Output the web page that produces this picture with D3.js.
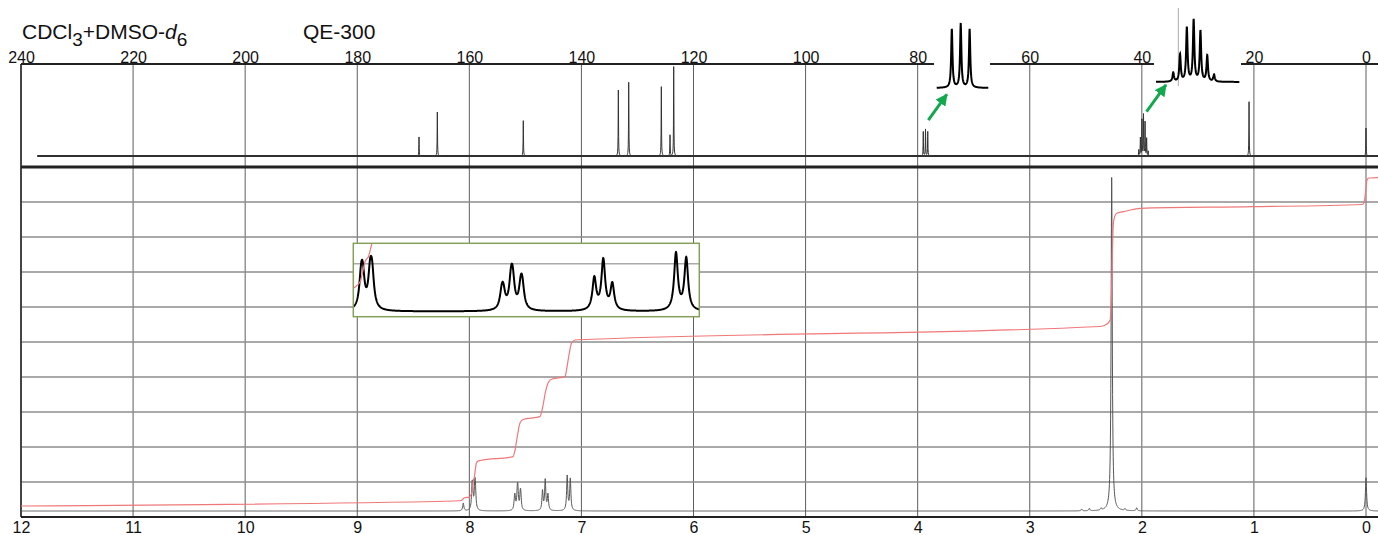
<!DOCTYPE html>
<html><head><meta charset="utf-8">
<script src="https://cdn.jsdelivr.net/npm/d3@7"></script>
<style>
html,body{margin:0;padding:0;background:#fff;}
svg{display:block;font-family:"Liberation Sans",Arial,sans-serif;}
</style></head><body>
<svg id="chart" width="1378" height="535"></svg>
<script>
// Axis ticks (ppm)
const c13Ticks = [240,220,200,180,160,140,120,100,80,60,40,20,0];
const h1Ticks = [12,11,10,9,8,7,6,5,4,3,2,1,0];
const integralGridLevels = [1,2,3,4,5,6,7,8,9];

// 13C lines: chemical shift (ppm) and relative intensity
const c13Shifts = [168.98,165.71,150.37,133.41,131.56,125.74,124.19,123.53,
  79.0,78.6,78.2,
  40.54,40.26,39.98,39.70,39.42,39.14,38.86,
  20.87,0.0];
const c13Heights = [20.7,47.8,38.4,71.7,80.1,75.3,22.8,97.1,
  26.5,29,26.5,
  6.6,19.7,39.3,44.8,36.8,19.0,5.1,
  59.0,30.4];

// 1H lines: chemical shift (ppm) and height (integral-grid units)
const h1Shifts = [8.054,
  7.9760,7.9714,7.9517,7.9463,
  7.5967,7.5924,7.5717,7.5671,7.5455,7.5412,
  7.3471,7.3229,7.2986,
  7.1269,7.0992,
  2.537,2.468,2.364,2.269,2.150,2.046,
  0.0];
const h1Heights = [0.22,
  0.476,0.476,0.545,0.545,
  0.256,0.256,0.438,0.438,0.339,0.339,
  0.554,0.866,0.450,
  0.987,0.900,
  0.05,0.066,0.057,9.53,0.05,0.086,
  0.95];

// Integral curve: [ppm, integral level]
const integralTrace = [
  [12.0,0.314],[8.128,0.457],[8.070,0.471],[8.057,0.514],[8.043,0.551],[8.000,0.57],
  [7.991,0.60],[7.978,0.694],[7.9714,0.867],[7.965,1.04],[7.9563,1.12],[7.9471,1.34],
  [7.938,1.53],[7.925,1.59],[7.904,1.614],[7.610,1.723],[7.592,1.914],[7.570,2.343],
  [7.548,2.686],[7.521,2.786],[7.370,2.866],[7.347,3.114],[7.321,3.571],[7.293,3.857],
  [7.262,3.943],[7.146,4.009],[7.133,4.2],[7.111,4.629],[7.088,4.971],[7.057,5.057],
  [6.834,5.086],[2.373,5.443],[2.310,5.514],[2.283,5.629],[2.270,6.486],[2.262,7.629],
  [2.255,8.343],[2.244,8.571],[2.224,8.677],[2.135,8.743],[2.016,8.82],[1.008,8.866],
  [0.031,8.929],[0.013,9.057],[0.000,9.4],[-0.009,9.629],[-0.027,9.686],[-0.107,9.694]
];

const svg = d3.select("#chart");
const W = 1378;
const left = 21, zeroX = 1366;
const topY = 64, midY = 167, botY = 517;

const x13 = d3.scaleLinear().domain([240, 0]).range([left, zeroX]);
const xH = d3.scaleLinear().domain([12, 0]).range([left, zeroX]);
const y13 = d3.scaleLinear().domain([0, 100]).range([156, topY]);
const yH = d3.scaleLinear().domain([0, 10]).range([botY, midY]);
const h1Base = 0.171;
const c13Start = 237.1;

const gamma13 = 0.035, gammaH = 0.006;

// Sum of Lorentzian lines sampled across a ppm window
function spectrum(xs, shifts, heights, gamma, p0, p1, step) {
  const lo = Math.min(p0, p1), hi = Math.max(p0, p1);
  const ppms = d3.range(xs(p0), xs(p1), step).map(xs.invert);
  ppms.push(p1);
  shifts.forEach(s => { if (s >= lo && s <= hi) ppms.push(s); });
  ppms.sort((a, b) => b - a);
  return ppms.map(p => [p, d3.sum(shifts, (s, i) => heights[i] / (1 + ((p - s) / gamma) ** 2))]);
}

const defs = svg.append("defs");
defs.append("marker").attr("id", "arrowHead")
  .attr("viewBox", "0 0 10 10").attr("refX", 9).attr("refY", 5)
  .attr("markerWidth", 12).attr("markerHeight", 12)
  .attr("markerUnits", "userSpaceOnUse").attr("orient", "auto")
  .append("path").attr("d", "M0,0 L10,5 L0,10 z").attr("fill", "#12a84e");

// Grid
const grid = svg.append("g");
grid.selectAll("line.v").data(h1Ticks).join("line")
  .attr("x1", d => xH(d)).attr("x2", d => xH(d))
  .attr("y1", topY).attr("y2", botY)
  .attr("stroke", "#5e5e5e").attr("stroke-width", 1);
grid.selectAll("line.h").data(integralGridLevels).join("line")
  .attr("x1", left).attr("x2", W)
  .attr("y1", d => yH(d)).attr("y2", d => yH(d))
  .attr("stroke", "#8c8c8c").attr("stroke-width", 1.5);

// Frame
const frame = svg.append("g").attr("stroke", "#222");
frame.append("line").attr("x1", left).attr("x2", W).attr("y1", topY).attr("y2", topY).attr("stroke-width", 2);
frame.append("line").attr("x1", left).attr("x2", W).attr("y1", midY).attr("y2", midY).attr("stroke-width", 3);
frame.append("line").attr("x1", left).attr("x2", W).attr("y1", botY).attr("y2", botY).attr("stroke-width", 2);
frame.append("line").attr("x1", left).attr("x2", left).attr("y1", topY).attr("y2", botY).attr("stroke-width", 1.5);

// Axis labels
const axTop = svg.append("g").attr("transform", `translate(0,${topY})`)
  .call(d3.axisTop(x13).tickValues(c13Ticks).tickSize(0).tickPadding(1.5));
axTop.select(".domain").remove();
axTop.selectAll("text").attr("font-size", 16).attr("font-family", "Liberation Sans, Arial, sans-serif").attr("fill", "#111");

const axBot = svg.append("g").attr("transform", `translate(0,${botY})`)
  .call(d3.axisBottom(xH).tickValues(h1Ticks).tickSize(0).tickPadding(4.5));
axBot.select(".domain").remove();
axBot.selectAll("text").attr("font-size", 16).attr("font-family", "Liberation Sans, Arial, sans-serif").attr("fill", "#111");

// Titles
const title = svg.append("text").attr("x", 22).attr("y", 38.5).attr("font-size", 21).attr("fill", "#111");
title.append("tspan").text("CDCl");
title.append("tspan").attr("font-size", 19).attr("dy", 7).text("3");
title.append("tspan").attr("dy", -7).text("+DMSO-");
title.append("tspan").attr("font-style", "italic").text("d");
title.append("tspan").attr("font-size", 19).attr("dy", 7).text("6");
svg.append("text").attr("x", 303).attr("y", 38.5).attr("font-size", 21).attr("fill", "#111").text("QE-300");

// 13C spectrum: heavier baseline band, then the trace
svg.append("line")
  .attr("x1", x13(c13Start)).attr("x2", W)
  .attr("y1", y13(0)).attr("y2", y13(0))
  .attr("stroke", "#333").attr("stroke-width", 2);
const c13Data = spectrum(x13, c13Shifts, c13Heights, gamma13, c13Start, x13.invert(W), 0.2);
svg.append("path")
  .attr("d", d3.line().x(d => x13(d[0])).y(d => y13(d[1]))(c13Data))
  .attr("fill", "none").attr("stroke", "#333").attr("stroke-width", 1);

// 1H spectrum
const h1Data = spectrum(xH, h1Shifts, h1Heights, gammaH, 12, xH.invert(W), 0.2);
svg.append("path")
  .attr("d", d3.line().x(d => xH(d[0])).y(d => yH(d[1] + h1Base))(h1Data))
  .attr("fill", "none").attr("stroke", "#555").attr("stroke-width", 1);

// Integral
const integralLine = (xs, ys) => d3.line().x(d => xs(d[0])).y(d => ys(d[1])).curve(d3.curveMonotoneX);
svg.append("path")
  .attr("d", integralLine(xH, yH)(integralTrace))
  .attr("fill", "none").attr("stroke", "#f07878").attr("stroke-width", 1.2);

// 13C expansions (CDCl3 triplet, DMSO-d6 septet)
const expansions = [
  { win: [79.68, 77.36], px: [936.7, 988.3], base: 88, top: 29, topPx: 24, box: [934, 990, 8, 95] },
  { win: [41.25, 37.82], px: [1156, 1239.3], base: 82, top: 44.8, topPx: 20.7, box: [1154, 1241, 0, 90], mark: 40.33 }
];
expansions.forEach(e => {
  const xs = d3.scaleLinear().domain(e.win).range(e.px);
  const ys = d3.scaleLinear().domain([0, e.top]).range([e.base, e.topPx]);
  svg.append("rect").attr("x", e.box[0]).attr("y", e.box[2])
    .attr("width", e.box[1] - e.box[0]).attr("height", e.box[3] - e.box[2]).attr("fill", "#fff");
  if (e.mark !== undefined) {
    svg.append("line").attr("x1", xs(e.mark)).attr("x2", xs(e.mark))
      .attr("y1", 8).attr("y2", 86).attr("stroke", "#aaa").attr("stroke-width", 1);
  }
  const data = spectrum(xs, c13Shifts, c13Heights, gamma13, e.win[0], e.win[1], 0.25);
  svg.append("path")
    .attr("d", d3.line().x(d => xs(d[0])).y(d => ys(d[1]))(data))
    .attr("fill", "none").attr("stroke", "#000").attr("stroke-width", 2);
});

// Arrows pointing from the solvent signals to their expansions: [ppm, intensity]
const arrows = [
  { from: [78.1, 39], to: [74.8, 67] },
  { from: [39.16, 48.2], to: [35.7, 77.2] }
];
svg.selectAll("line.arrow").data(arrows).join("line")
  .attr("x1", d => x13(d.from[0])).attr("y1", d => y13(d.from[1]))
  .attr("x2", d => x13(d.to[0])).attr("y2", d => y13(d.to[1]))
  .attr("stroke", "#12a84e").attr("stroke-width", 3)
  .attr("marker-end", "url(#arrowHead)");

// 1H aromatic expansion
const ins = { win: [7.997, 7.064], px: [353.3, 699.3], py: [243.3, 316.7], basePx: 311.5, unitPx: 57.75 };
const xi = d3.scaleLinear().domain(ins.win).range(ins.px);
const yi = d3.scaleLinear().domain([h1Base, h1Base + 1]).range([ins.basePx, ins.basePx - ins.unitPx]);
defs.append("clipPath").attr("id", "insetClip").append("rect")
  .attr("x", ins.px[0]).attr("y", ins.py[0])
  .attr("width", ins.px[1] - ins.px[0]).attr("height", ins.py[1] - ins.py[0]);
svg.append("rect").attr("x", ins.px[0]).attr("y", ins.py[0])
  .attr("width", ins.px[1] - ins.px[0]).attr("height", ins.py[1] - ins.py[0])
  .attr("fill", "#fff");
const ig = svg.append("g").attr("clip-path", "url(#insetClip)");
ig.selectAll("line").data(integralGridLevels).join("line")
  .attr("x1", ins.px[0]).attr("x2", ins.px[1])
  .attr("y1", d => yi(d)).attr("y2", d => yi(d))
  .attr("stroke", "#aaa").attr("stroke-width", 1.5);
const insData = spectrum(xi, h1Shifts, h1Heights, gammaH, ins.win[0], ins.win[1], 0.25);
ig.append("path")
  .attr("d", d3.line().x(d => xi(d[0])).y(d => yi(d[1] + h1Base))(insData))
  .attr("fill", "none").attr("stroke", "#000").attr("stroke-width", 2);
ig.append("path")
  .attr("d", integralLine(xi, yi)(integralTrace))
  .attr("fill", "none").attr("stroke", "#f07878").attr("stroke-width", 1.2);
svg.append("rect").attr("x", ins.px[0]).attr("y", ins.py[0])
  .attr("width", ins.px[1] - ins.px[0]).attr("height", ins.py[1] - ins.py[0])
  .attr("fill", "none").attr("stroke", "#86a05a").attr("stroke-width", 1.5);
</script>
</body></html>
